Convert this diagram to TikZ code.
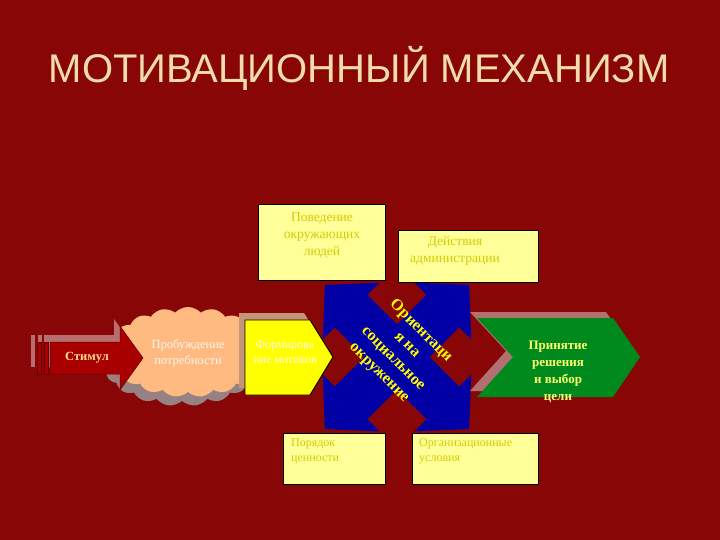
\documentclass[tikz,border=0pt]{standalone}
\usepackage{fontspec}
\setmainfont{Liberation Serif}
\newfontfamily\titlefont{Liberation Sans}
\usetikzlibrary{shapes.symbols}
\definecolor{bg}{RGB}{136,6,6}
\definecolor{titlecol}{RGB}{240,220,172}
\definecolor{peach}{RGB}{255,186,130}
\definecolor{cloudsh}{RGB}{150,130,130}
\definecolor{stimred}{RGB}{168,0,0}
\definecolor{stimsh}{RGB}{184,110,110}
\definecolor{stimtext}{RGB}{255,222,140}
\definecolor{yel}{RGB}{255,255,0}
\definecolor{yelsh}{RGB}{196,150,118}
\definecolor{lightyel}{RGB}{255,255,153}
\definecolor{boxtext}{RGB}{212,204,0}
\definecolor{qblue}{RGB}{0,0,165}
\definecolor{qgreen}{RGB}{0,138,30}
\definecolor{greensh}{RGB}{180,112,112}
\definecolor{greentext}{RGB}{255,255,110}
\definecolor{cloudtext}{RGB}{255,246,232}
\tikzset{
  titlestyle/.style={font=\titlefont\fontsize{40}{44}\selectfont, text=titlecol, inner sep=0pt},
  lightbox/.style={draw=black, line width=0.9pt, fill=lightyel, inner sep=0pt},
  boxtxt/.style={text=boxtext, inner sep=0pt},
  whitetxt/.style={text=cloudtext, inner sep=0pt, align=center, font=\fontsize{12.5}{16}\selectfont},
  cloudshape/.style={cloud, cloud puffs=19, cloud puff arc=95, aspect=1.7, minimum width=160pt, minimum height=90pt, inner sep=0pt},
}
\begin{document}
\begin{tikzpicture}[x=1pt,y=-1pt]
\useasboundingbox (0,0) rectangle (720,540);
\fill[bg] (0,0) rectangle (720,540);
\node[titlestyle] (title) at (359,68) {МОТИВАЦИОННЫЙ МЕХАНИЗМ};

% cloud
\node[cloudshape, fill=cloudsh] (cloudshadow) at (182,361) {};
\node[cloudshape, fill=peach] (cloudmain) at (188,352) {};
\node[whitetxt] (cloudlbl) at (188,353) {Пробуждение\\потребности};

% stimulus arrow
\begin{scope}[shift={(-6,-7)}]
\fill[stimsh] (50,342) -- (120,342) -- (120,326) -- (143,358) -- (120,390) -- (120,374) -- (50,374) -- cycle;
\fill[stimsh] (37,342) rectangle (41,374);
\fill[stimsh] (44,342) rectangle (48,374);
\end{scope}
\filldraw[fill=stimred, draw=black!60!red, line width=0.5pt] (50,342) -- (120,342) -- (120,326) -- (143,358) -- (120,390) -- (120,374) -- (50,374) -- cycle;
\filldraw[fill=stimred, draw=black!60!red, line width=0.5pt] (37,342) rectangle (41,374);
\filldraw[fill=stimred, draw=black!60!red, line width=0.5pt] (44,342) rectangle (48,374);
\node[text=stimtext, font=\bfseries\fontsize{12.5}{15}\selectfont, inner sep=0pt] (stim) at (87,358) {Стимул};

% formation pentagon
\fill[yelsh] (239,313) -- (304,313) -- (327,350) -- (304,388) -- (239,388) -- cycle;
\filldraw[fill=yel, draw=black, line width=0.9pt] (245,320) -- (310,320) -- (333,357) -- (310,395) -- (245,395) -- cycle;
\node[whitetxt, font=\fontsize{12}{15}\selectfont] (form) at (285,352) {Формирова\\ние мотивов};

% blue quad arrow
\begin{scope}[shift={(397,357)}, rotate=45]
\fill[qblue] (23,23) -- (65,23) -- (65,40) -- (102,0) -- (65,-40) -- (65,-23) -- (23,-23)
  -- (23,-65) -- (40,-65) -- (0,-102) -- (-40,-65) -- (-23,-65) -- (-23,-23)
  -- (-65,-23) -- (-65,-40) -- (-102,0) -- (-65,40) -- (-65,23) -- (-23,23)
  -- (-23,65) -- (-40,65) -- (0,102) -- (40,65) -- (23,65) -- cycle;
\end{scope}
\node[rotate=-45, text=yel, font=\bfseries\fontsize{16}{19.6}\selectfont, align=center, inner sep=0pt] (orient) at (400,352) {Ориентаци\\я на\\социальное\\окружение};

% green chevron
\fill[greensh] (470,312) -- (606,312) -- (633,351) -- (606,391) -- (470,391) -- (506,351) -- cycle;
\fill[qgreen] (477,318) -- (613,318) -- (640,357) -- (613,397) -- (477,397) -- (513,357) -- cycle;
\node[text=greentext, font=\bfseries\fontsize{13}{17}\selectfont, align=center, inner sep=0pt] (decision) at (558,372) {Принятие\\решения\\и выбор\\цели};

% light boxes
\node[lightbox, minimum width=127pt, minimum height=76pt] (behavbox) at (321.5,242) {};
\node[boxtxt, align=center, font=\fontsize{13.5}{17}\selectfont] (behav) at (322,235) {Поведение\\окружающих\\людей};
\node[lightbox, minimum width=140pt, minimum height=52pt] (adminbox) at (468,256) {};
\node[boxtxt, align=center, font=\fontsize{13.5}{17}\selectfont] (admin) at (455,251) {Действия\\администрации};
\node[lightbox, minimum width=102pt, minimum height=51pt] (valbox) at (334,458.5) {};
\node[boxtxt, align=left, anchor=north west, font=\fontsize{12}{15}\selectfont] (val) at (291,438) {Порядок\\ценности};
\node[lightbox, minimum width=126pt, minimum height=51pt] (orgbox) at (475,458.5) {};
\node[boxtxt, align=left, anchor=north west, font=\fontsize{12}{15}\selectfont] (org) at (419,438) {Организационные\\условия};
\end{tikzpicture}
\end{document}
